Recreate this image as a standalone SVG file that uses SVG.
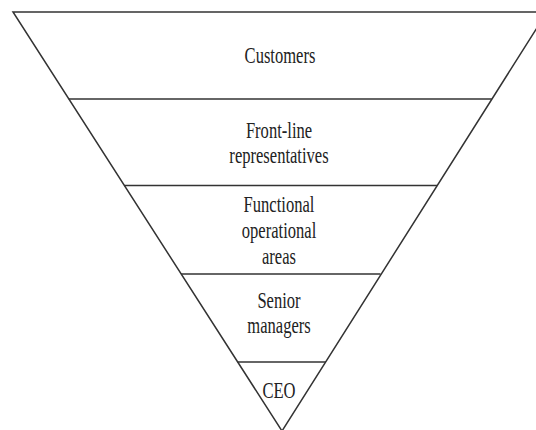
<svg xmlns="http://www.w3.org/2000/svg" width="536" height="430" viewBox="0 0 536 430">
<style>
.ln{stroke:#333;stroke-width:1.5;fill:none}
.t{font-family:"Liberation Serif","Times New Roman",serif;font-size:23px;fill:#222;text-anchor:middle}
</style>
<rect width="536" height="430" fill="#fff"/>
<g id="connectors">
<polygon class="ln" points="13,12 547,12 282,431"/>
<line class="ln" x1="68.8" y1="99" x2="491.8" y2="99"/>
<line class="ln" x1="124.3" y1="185.5" x2="437" y2="185.5"/>
<line class="ln" x1="181" y1="274" x2="380.5" y2="274"/>
<line class="ln" x1="237.5" y1="362" x2="326" y2="362"/>
</g>
<g id="customers"><text class="t" transform="translate(280,63) scale(0.72,1)">Customers</text></g>
<g id="frontline"><text class="t" transform="translate(279,138) scale(0.72,1)">Front-line</text><text class="t" transform="translate(279,163) scale(0.72,1)">representatives</text></g>
<g id="functional"><text class="t" transform="translate(279,212) scale(0.72,1)">Functional</text><text class="t" transform="translate(279,238) scale(0.72,1)">operational</text><text class="t" transform="translate(279,264) scale(0.72,1)">areas</text></g>
<g id="senior"><text class="t" transform="translate(279,308) scale(0.72,1)">Senior</text><text class="t" transform="translate(279,333) scale(0.72,1)">managers</text></g>
<g id="ceo"><text class="t" transform="translate(279,398) scale(0.72,1)">CEO</text></g>
</svg>
